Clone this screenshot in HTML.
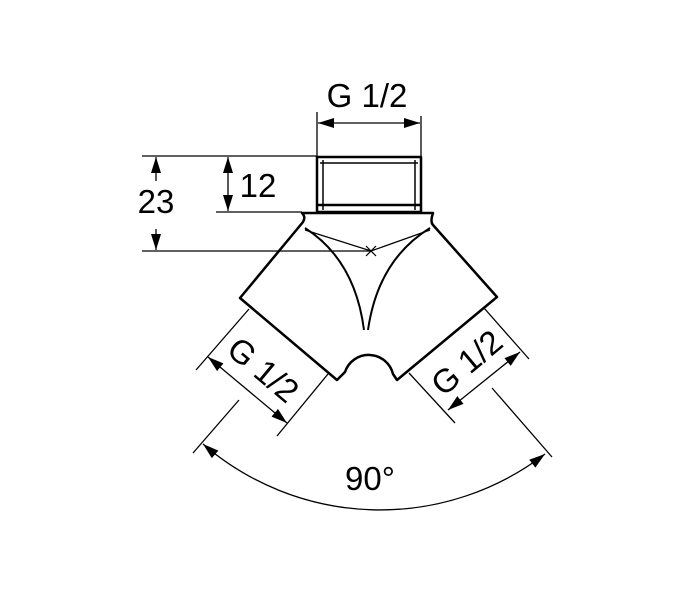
<!DOCTYPE html>
<html><head><style>html,body{margin:0;padding:0;background:#fff}svg{display:block}</style></head>
<body>
<svg width="700" height="592" viewBox="0 0 700 592" xmlns="http://www.w3.org/2000/svg">
<defs>
<marker id="b" viewBox="0 0 16 10" refX="16" refY="5" markerWidth="16" markerHeight="10" markerUnits="userSpaceOnUse" orient="auto-start-reverse"><path d="M0,0L16,5L0,10z" fill="#000"/></marker>
</defs>
<g fill="none" stroke="#000" stroke-width="1.3">
<line x1="317" y1="112" x2="317" y2="156"/>
<line x1="421" y1="116" x2="421" y2="158"/>
<line x1="318" y1="123" x2="420" y2="123" marker-start="url(#b)" marker-end="url(#b)"/>
<line x1="142" y1="156" x2="317" y2="156"/>
<line x1="216" y1="212" x2="302" y2="212"/>
<line x1="228" y1="157" x2="228" y2="211" marker-start="url(#b)" marker-end="url(#b)"/>
<line x1="156" y1="181" x2="156" y2="157" marker-end="url(#b)"/>
<line x1="156" y1="229" x2="156" y2="250" marker-end="url(#b)"/>
<line x1="249" y1="309" x2="196" y2="370"/>
<line x1="328" y1="374" x2="277" y2="436"/>
<line x1="208" y1="357" x2="287" y2="423" marker-start="url(#b)" marker-end="url(#b)"/>
<line x1="239" y1="400" x2="193" y2="453"/>
<line x1="484" y1="308" x2="529" y2="359"/>
<line x1="409" y1="373" x2="455" y2="423"/>
<line x1="520" y1="352" x2="448" y2="410" marker-start="url(#b)" marker-end="url(#b)"/>
<line x1="492" y1="388" x2="552" y2="457"/>
<path d="M203,444 A271,271 0 0 0 545,454" marker-start="url(#b)" marker-end="url(#b)"/>
</g>
<g fill="#fff" stroke="#000" stroke-width="2.5" stroke-linejoin="round">
<path d="M302,213 L433,213 Q430,222 433,225 L497,297 L397,380 L393,374 A25,25 0 0 0 345,372 L337,380 L240,298 L303,222 Q306,217 302,213 Z"/>
<rect x="317" y="157" width="104" height="55"/>
</g>
<line x1="142" y1="251" x2="371" y2="251" stroke="#000" stroke-width="1.3"/>
<g fill="none" stroke="#000" stroke-width="1.5">
<line x1="323" y1="160" x2="323" y2="210"/>
<line x1="415" y1="160" x2="415" y2="210"/>
<line x1="320" y1="163" x2="418" y2="163"/>
<line x1="318" y1="205" x2="420" y2="205" stroke-width="2.5"/>
<path d="M305,228 Q355,260 364,330" stroke-width="2"/>
<path d="M430,228 Q378,260 368,330" stroke-width="2"/>
<path d="M305,230 L371,251 L430,230" stroke-width="1.2"/>
<path d="M366,246 L376,256 M376,246 L366,256" stroke-width="1.2"/>
</g>
<g font-family="Liberation Sans, sans-serif" font-size="33" fill="#000" text-anchor="middle">
<text x="367" y="107">G 1/2</text>
<text x="258" y="197">12</text>
<text x="156" y="213">23</text>
<text x="370" y="490">90°</text>
<text transform="translate(263,370) rotate(40)" y="11">G 1/2</text>
<text transform="translate(467,363) rotate(-40)" y="11">G 1/2</text>
</g>
</svg>
</body></html>
